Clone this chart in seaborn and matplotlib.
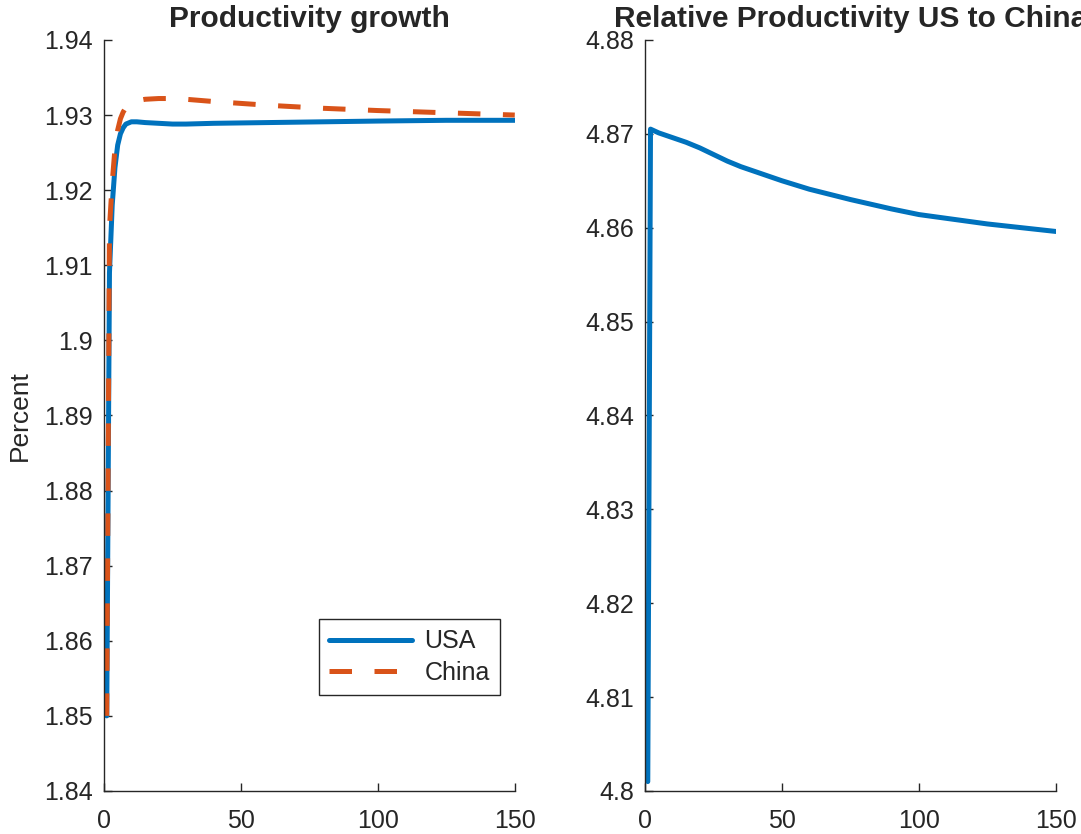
import numpy as np
import pandas as pd
import matplotlib
matplotlib.use("Agg")
import matplotlib.pyplot as plt
import seaborn as sns

# Productivity growth (percent)
t_growth = [1, 2, 3, 4, 5, 6, 7, 8, 10, 12, 15, 20, 25, 30, 40, 60, 80, 100, 125, 150]
usa_growth = [1.850, 1.909, 1.918, 1.923, 1.926, 1.9275, 1.9283, 1.9288, 1.9291, 1.9291,
              1.9290, 1.9289, 1.9288, 1.9288, 1.9289, 1.9290, 1.9291, 1.9292, 1.9293, 1.9293]
china_growth = [1.850, 1.915, 1.921, 1.9255, 1.928, 1.9295, 1.9304, 1.931, 1.9316, 1.9319,
                1.9321, 1.9322, 1.9322, 1.9321, 1.9318, 1.9313, 1.9309, 1.9306, 1.9303, 1.9300]

# Relative productivity US to China
t_rel = [1, 2, 5, 10, 15, 20, 25, 30, 35, 40, 50, 60, 75, 90, 100, 125, 150]
rel_prod = [4.801, 4.8705, 4.8701, 4.8696, 4.8691, 4.8685, 4.8678, 4.8671, 4.8665, 4.8660,
            4.8650, 4.8641, 4.8630, 4.8620, 4.8614, 4.8604, 4.8596]

left_yticks = [1.84, 1.85, 1.86, 1.87, 1.88, 1.89, 1.90, 1.91, 1.92, 1.93, 1.94]
left_ylabels = ['1.84', '1.85', '1.86', '1.87', '1.88', '1.89', '1.9', '1.91', '1.92', '1.93', '1.94']
right_yticks = [4.80, 4.81, 4.82, 4.83, 4.84, 4.85, 4.86, 4.87, 4.88]
right_ylabels = ['4.8', '4.81', '4.82', '4.83', '4.84', '4.85', '4.86', '4.87', '4.88']
xticks = [0, 50, 100, 150]

sns.set_style("ticks")
plt.rcParams['font.family'] = ['Liberation Sans', 'DejaVu Sans']
plt.rcParams['axes.edgecolor'] = '#262626'
plt.rcParams['axes.linewidth'] = 1.0

blue = '#0072BD'
orange = '#D95319'

df = pd.DataFrame({'t': t_growth, 'USA': usa_growth, 'China': china_growth})
long = df.melt(id_vars='t', var_name='Country', value_name='Percent')

fig = plt.figure(figsize=(10.81, 8.34), dpi=100)
ax1 = fig.add_axes([0.0962, 0.0516, 0.380, 0.9005])
ax2 = fig.add_axes([0.5967, 0.0516, 0.380, 0.9005])

sns.lineplot(data=long, x='t', y='Percent', hue='Country', style='Country',
             palette={'USA': blue, 'China': orange},
             dashes={'USA': '', 'China': (4.5, 4.5)}, linewidth=3.6, ax=ax1)
sns.lineplot(x=t_rel, y=rel_prod, color=blue, linewidth=3.6, ax=ax2)

for ax, yt, yl in [(ax1, left_yticks, left_ylabels), (ax2, right_yticks, right_ylabels)]:
    ax.set_xlim(0, 150)
    ax.set_ylim(yt[0], yt[-1])
    ax.set_xticks(xticks)
    ax.set_xticklabels([str(x) for x in xticks])
    ax.set_yticks(yt)
    ax.set_yticklabels(yl)
    ax.tick_params(direction='in', length=6, width=1, labelsize=18, colors='#262626', pad=8)
    ax.tick_params(axis='x', pad=13)
    ax.set_xlabel('')
    ax.set_ylabel('')
    sns.despine(ax=ax)

ax1.set_ylabel('Percent', fontsize=19, color='#262626', labelpad=9)
ax1.set_title('Productivity growth', fontsize=21.5, fontweight='bold', pad=9)
ax2.set_title('Relative Productivity US to China', fontsize=21.5, fontweight='bold', pad=9)

handles, labels = ax1.get_legend_handles_labels()
leg = ax1.legend(handles, labels, loc='lower right', bbox_to_anchor=(0.9635, 0.128),
                 fontsize=18, handlelength=3.3, handletextpad=0.5, frameon=True, fancybox=False,
                 framealpha=1, edgecolor='#262626', borderpad=0.4, labelspacing=0.3,
                 borderaxespad=0)
leg.get_frame().set_linewidth(1.0)

fig.savefig('out.png', dpi=100)
